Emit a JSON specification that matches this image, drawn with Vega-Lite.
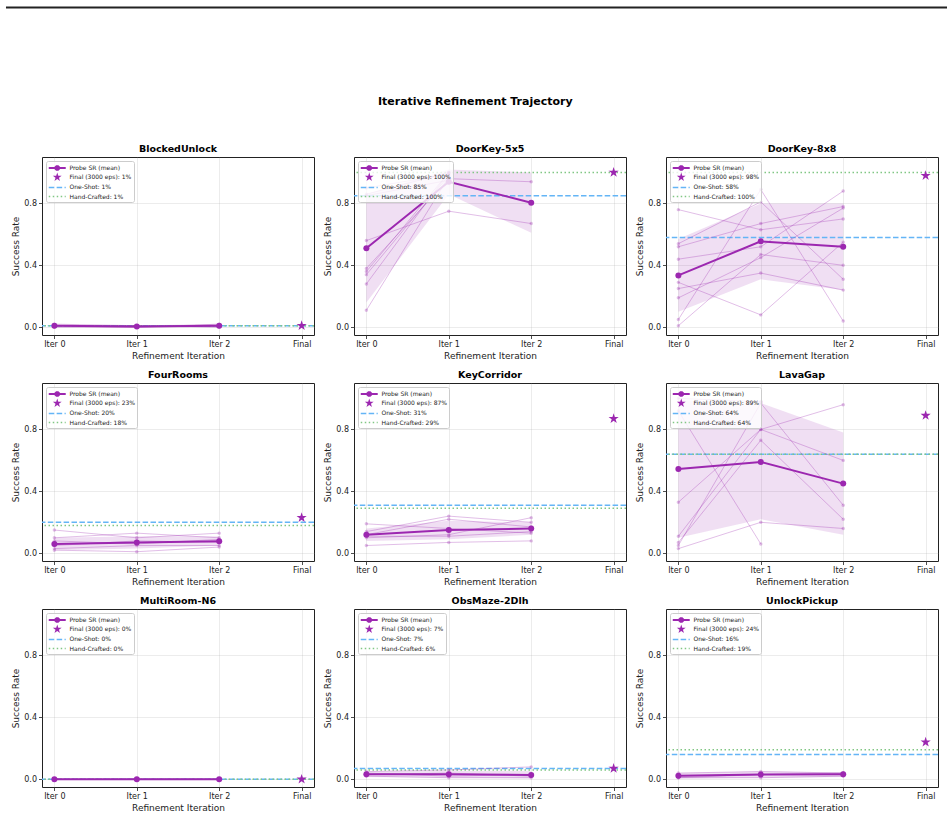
{
  "$schema": "https://vega.github.io/schema/vega-lite/v6.json",
  "padding": {"left": 4, "top": 6, "right": 2, "bottom": 0},
  "datasets": {
    "runs": [
      {"env":"BlockedUnlock","run":1,"iter":0,"sr":0.01},{"env":"BlockedUnlock","run":1,"iter":1,"sr":0.0},{"env":"BlockedUnlock","run":1,"iter":2,"sr":0.02},
      {"env":"BlockedUnlock","run":2,"iter":0,"sr":0.02},{"env":"BlockedUnlock","run":2,"iter":1,"sr":0.01},{"env":"BlockedUnlock","run":2,"iter":2,"sr":0.01},
      {"env":"BlockedUnlock","run":3,"iter":0,"sr":0.0},{"env":"BlockedUnlock","run":3,"iter":1,"sr":0.0},{"env":"BlockedUnlock","run":3,"iter":2,"sr":0.01},
      {"env":"BlockedUnlock","run":4,"iter":0,"sr":0.01},{"env":"BlockedUnlock","run":4,"iter":1,"sr":0.01},{"env":"BlockedUnlock","run":4,"iter":2,"sr":0.0},
      {"env":"DoorKey-5x5","run":1,"iter":0,"sr":0.56},{"env":"DoorKey-5x5","run":1,"iter":1,"sr":0.75},{"env":"DoorKey-5x5","run":1,"iter":2,"sr":0.67},
      {"env":"DoorKey-5x5","run":2,"iter":0,"sr":0.38},{"env":"DoorKey-5x5","run":2,"iter":1,"sr":0.96},{"env":"DoorKey-5x5","run":2,"iter":2,"sr":0.94},
      {"env":"DoorKey-5x5","run":3,"iter":0,"sr":0.36},{"env":"DoorKey-5x5","run":3,"iter":1,"sr":1.0},
      {"env":"DoorKey-5x5","run":4,"iter":0,"sr":0.34},{"env":"DoorKey-5x5","run":4,"iter":1,"sr":0.98},
      {"env":"DoorKey-5x5","run":5,"iter":0,"sr":0.28},{"env":"DoorKey-5x5","run":5,"iter":1,"sr":1.0},
      {"env":"DoorKey-5x5","run":6,"iter":0,"sr":0.11},{"env":"DoorKey-5x5","run":6,"iter":1,"sr":0.97},
      {"env":"DoorKey-5x5","run":7,"iter":0,"sr":0.86},{"env":"DoorKey-5x5","run":7,"iter":1,"sr":1.0},
      {"env":"DoorKey-5x5","run":8,"iter":0,"sr":0.9},{"env":"DoorKey-5x5","run":8,"iter":1,"sr":0.99},
      {"env":"DoorKey-5x5","run":9,"iter":0,"sr":0.85},{"env":"DoorKey-5x5","run":9,"iter":1,"sr":0.95},
      {"env":"DoorKey-8x8","run":1,"iter":0,"sr":0.76},{"env":"DoorKey-8x8","run":1,"iter":1,"sr":0.63},{"env":"DoorKey-8x8","run":1,"iter":2,"sr":0.7},
      {"env":"DoorKey-8x8","run":2,"iter":0,"sr":0.54},{"env":"DoorKey-8x8","run":2,"iter":1,"sr":0.81},{"env":"DoorKey-8x8","run":2,"iter":2,"sr":0.31},
      {"env":"DoorKey-8x8","run":3,"iter":0,"sr":0.52},{"env":"DoorKey-8x8","run":3,"iter":1,"sr":0.67},{"env":"DoorKey-8x8","run":3,"iter":2,"sr":0.78},
      {"env":"DoorKey-8x8","run":4,"iter":0,"sr":0.44},{"env":"DoorKey-8x8","run":4,"iter":1,"sr":0.52},{"env":"DoorKey-8x8","run":4,"iter":2,"sr":0.88},
      {"env":"DoorKey-8x8","run":5,"iter":0,"sr":0.29},{"env":"DoorKey-8x8","run":5,"iter":1,"sr":0.08},{"env":"DoorKey-8x8","run":5,"iter":2,"sr":0.55},
      {"env":"DoorKey-8x8","run":6,"iter":0,"sr":0.25},{"env":"DoorKey-8x8","run":6,"iter":1,"sr":0.35},{"env":"DoorKey-8x8","run":6,"iter":2,"sr":0.24},
      {"env":"DoorKey-8x8","run":7,"iter":0,"sr":0.19},{"env":"DoorKey-8x8","run":7,"iter":1,"sr":0.45},{"env":"DoorKey-8x8","run":7,"iter":2,"sr":0.77},
      {"env":"DoorKey-8x8","run":8,"iter":0,"sr":0.05},{"env":"DoorKey-8x8","run":8,"iter":1,"sr":0.89},{"env":"DoorKey-8x8","run":8,"iter":2,"sr":0.04},
      {"env":"DoorKey-8x8","run":9,"iter":0,"sr":0.01},{"env":"DoorKey-8x8","run":9,"iter":1,"sr":0.47},{"env":"DoorKey-8x8","run":9,"iter":2,"sr":0.4},
      {"env":"FourRooms","run":1,"iter":0,"sr":0.15},{"env":"FourRooms","run":1,"iter":1,"sr":0.1},{"env":"FourRooms","run":1,"iter":2,"sr":0.13},
      {"env":"FourRooms","run":2,"iter":0,"sr":0.1},{"env":"FourRooms","run":2,"iter":1,"sr":0.13},{"env":"FourRooms","run":2,"iter":2,"sr":0.1},
      {"env":"FourRooms","run":3,"iter":0,"sr":0.08},{"env":"FourRooms","run":3,"iter":1,"sr":0.06},{"env":"FourRooms","run":3,"iter":2,"sr":0.09},
      {"env":"FourRooms","run":4,"iter":0,"sr":0.05},{"env":"FourRooms","run":4,"iter":1,"sr":0.08},{"env":"FourRooms","run":4,"iter":2,"sr":0.07},
      {"env":"FourRooms","run":5,"iter":0,"sr":0.03},{"env":"FourRooms","run":5,"iter":1,"sr":0.05},{"env":"FourRooms","run":5,"iter":2,"sr":0.05},
      {"env":"FourRooms","run":6,"iter":0,"sr":0.02},{"env":"FourRooms","run":6,"iter":1,"sr":0.01},{"env":"FourRooms","run":6,"iter":2,"sr":0.04},
      {"env":"KeyCorridor","run":1,"iter":0,"sr":0.19},{"env":"KeyCorridor","run":1,"iter":1,"sr":0.16},{"env":"KeyCorridor","run":1,"iter":2,"sr":0.13},
      {"env":"KeyCorridor","run":2,"iter":0,"sr":0.14},{"env":"KeyCorridor","run":2,"iter":1,"sr":0.24},{"env":"KeyCorridor","run":2,"iter":2,"sr":0.2},
      {"env":"KeyCorridor","run":3,"iter":0,"sr":0.12},{"env":"KeyCorridor","run":3,"iter":1,"sr":0.22},{"env":"KeyCorridor","run":3,"iter":2,"sr":0.17},
      {"env":"KeyCorridor","run":4,"iter":0,"sr":0.1},{"env":"KeyCorridor","run":4,"iter":1,"sr":0.12},{"env":"KeyCorridor","run":4,"iter":2,"sr":0.23},
      {"env":"KeyCorridor","run":5,"iter":0,"sr":0.11},{"env":"KeyCorridor","run":5,"iter":1,"sr":0.11},{"env":"KeyCorridor","run":5,"iter":2,"sr":0.14},
      {"env":"KeyCorridor","run":6,"iter":0,"sr":0.05},{"env":"KeyCorridor","run":6,"iter":1,"sr":0.07},{"env":"KeyCorridor","run":6,"iter":2,"sr":0.08},
      {"env":"LavaGap","run":1,"iter":0,"sr":0.92},{"env":"LavaGap","run":1,"iter":1,"sr":0.06},
      {"env":"LavaGap","run":2,"iter":0,"sr":0.33},{"env":"LavaGap","run":2,"iter":1,"sr":0.8},{"env":"LavaGap","run":2,"iter":2,"sr":0.6},
      {"env":"LavaGap","run":3,"iter":0,"sr":0.11},{"env":"LavaGap","run":3,"iter":1,"sr":0.8},{"env":"LavaGap","run":3,"iter":2,"sr":0.96},
      {"env":"LavaGap","run":4,"iter":0,"sr":0.07},{"env":"LavaGap","run":4,"iter":1,"sr":0.73},{"env":"LavaGap","run":4,"iter":2,"sr":0.22},
      {"env":"LavaGap","run":5,"iter":0,"sr":0.05},{"env":"LavaGap","run":5,"iter":1,"sr":0.97},{"env":"LavaGap","run":5,"iter":2,"sr":0.31},
      {"env":"LavaGap","run":6,"iter":0,"sr":0.03},{"env":"LavaGap","run":6,"iter":1,"sr":0.2},{"env":"LavaGap","run":6,"iter":2,"sr":0.16},
      {"env":"LavaGap","run":7,"iter":0,"sr":1.0},{"env":"LavaGap","run":7,"iter":1,"sr":0.98},
      {"env":"MultiRoom-N6","run":1,"iter":0,"sr":0.0},{"env":"MultiRoom-N6","run":1,"iter":1,"sr":0.0},{"env":"MultiRoom-N6","run":1,"iter":2,"sr":0.0},
      {"env":"MultiRoom-N6","run":2,"iter":0,"sr":0.0},{"env":"MultiRoom-N6","run":2,"iter":1,"sr":0.0},{"env":"MultiRoom-N6","run":2,"iter":2,"sr":0.0},
      {"env":"MultiRoom-N6","run":3,"iter":0,"sr":0.0},{"env":"MultiRoom-N6","run":3,"iter":1,"sr":0.0},{"env":"MultiRoom-N6","run":3,"iter":2,"sr":0.0},
      {"env":"ObsMaze-2Dlh","run":1,"iter":0,"sr":0.05},{"env":"ObsMaze-2Dlh","run":1,"iter":1,"sr":0.06},{"env":"ObsMaze-2Dlh","run":1,"iter":2,"sr":0.08},
      {"env":"ObsMaze-2Dlh","run":2,"iter":0,"sr":0.03},{"env":"ObsMaze-2Dlh","run":2,"iter":1,"sr":0.04},{"env":"ObsMaze-2Dlh","run":2,"iter":2,"sr":0.02},
      {"env":"ObsMaze-2Dlh","run":3,"iter":0,"sr":0.02},{"env":"ObsMaze-2Dlh","run":3,"iter":1,"sr":0.01},{"env":"ObsMaze-2Dlh","run":3,"iter":2,"sr":0.01},
      {"env":"ObsMaze-2Dlh","run":4,"iter":0,"sr":0.04},{"env":"ObsMaze-2Dlh","run":4,"iter":1,"sr":0.02},{"env":"ObsMaze-2Dlh","run":4,"iter":2,"sr":0.03},
      {"env":"UnlockPickup","run":1,"iter":0,"sr":0.04},{"env":"UnlockPickup","run":1,"iter":1,"sr":0.05},{"env":"UnlockPickup","run":1,"iter":2,"sr":0.04},
      {"env":"UnlockPickup","run":2,"iter":0,"sr":0.02},{"env":"UnlockPickup","run":2,"iter":1,"sr":0.03},{"env":"UnlockPickup","run":2,"iter":2,"sr":0.03},
      {"env":"UnlockPickup","run":3,"iter":0,"sr":0.01},{"env":"UnlockPickup","run":3,"iter":1,"sr":0.01},{"env":"UnlockPickup","run":3,"iter":2,"sr":0.02},
      {"env":"UnlockPickup","run":4,"iter":0,"sr":0.01},{"env":"UnlockPickup","run":4,"iter":1,"sr":0.03},{"env":"UnlockPickup","run":4,"iter":2,"sr":0.04}
    ],
    "stats": [
      {"env":"BlockedUnlock","iter":0,"mean":0.01,"lo":0.004,"hi":0.016},{"env":"BlockedUnlock","iter":1,"mean":0.005,"lo":0.0,"hi":0.011},{"env":"BlockedUnlock","iter":2,"mean":0.01,"lo":0.0,"hi":0.022},
      {"env":"DoorKey-5x5","iter":0,"mean":0.51,"lo":0.16,"hi":0.86},{"env":"DoorKey-5x5","iter":1,"mean":0.94,"lo":0.86,"hi":1.02},{"env":"DoorKey-5x5","iter":2,"mean":0.805,"lo":0.61,"hi":1.0},
      {"env":"DoorKey-8x8","iter":0,"mean":0.335,"lo":0.1,"hi":0.57},{"env":"DoorKey-8x8","iter":1,"mean":0.555,"lo":0.31,"hi":0.8},{"env":"DoorKey-8x8","iter":2,"mean":0.52,"lo":0.24,"hi":0.8},
      {"env":"FourRooms","iter":0,"mean":0.06,"lo":0.02,"hi":0.1},{"env":"FourRooms","iter":1,"mean":0.07,"lo":0.03,"hi":0.11},{"env":"FourRooms","iter":2,"mean":0.078,"lo":0.05,"hi":0.11},
      {"env":"KeyCorridor","iter":0,"mean":0.12,"lo":0.08,"hi":0.16},{"env":"KeyCorridor","iter":1,"mean":0.15,"lo":0.09,"hi":0.21},{"env":"KeyCorridor","iter":2,"mean":0.16,"lo":0.12,"hi":0.2},
      {"env":"LavaGap","iter":0,"mean":0.545,"lo":0.1,"hi":0.99},{"env":"LavaGap","iter":1,"mean":0.59,"lo":0.22,"hi":0.97},{"env":"LavaGap","iter":2,"mean":0.45,"lo":0.12,"hi":0.78},
      {"env":"MultiRoom-N6","iter":0,"mean":0.0,"lo":0.0,"hi":0.0},{"env":"MultiRoom-N6","iter":1,"mean":0.0,"lo":0.0,"hi":0.0},{"env":"MultiRoom-N6","iter":2,"mean":0.0,"lo":0.0,"hi":0.0},
      {"env":"ObsMaze-2Dlh","iter":0,"mean":0.032,"lo":0.015,"hi":0.05},{"env":"ObsMaze-2Dlh","iter":1,"mean":0.032,"lo":0.01,"hi":0.055},{"env":"ObsMaze-2Dlh","iter":2,"mean":0.028,"lo":0.005,"hi":0.055},
      {"env":"UnlockPickup","iter":0,"mean":0.022,"lo":0.005,"hi":0.04},{"env":"UnlockPickup","iter":1,"mean":0.03,"lo":0.01,"hi":0.05},{"env":"UnlockPickup","iter":2,"mean":0.032,"lo":0.015,"hi":0.045}
    ],
    "refs": [
      {"env":"BlockedUnlock","iter":3,"final":0.01,"oneshot":0.01,"hand":0.01},
      {"env":"DoorKey-5x5","iter":3,"final":1.0,"oneshot":0.85,"hand":1.0},
      {"env":"DoorKey-8x8","iter":3,"final":0.98,"oneshot":0.58,"hand":1.0},
      {"env":"FourRooms","iter":3,"final":0.23,"oneshot":0.2,"hand":0.18},
      {"env":"KeyCorridor","iter":3,"final":0.87,"oneshot":0.31,"hand":0.29},
      {"env":"LavaGap","iter":3,"final":0.89,"oneshot":0.64,"hand":0.64},
      {"env":"MultiRoom-N6","iter":3,"final":0.0,"oneshot":0.0,"hand":0.0},
      {"env":"ObsMaze-2Dlh","iter":3,"final":0.07,"oneshot":0.07,"hand":0.06},
      {"env":"UnlockPickup","iter":3,"final":0.24,"oneshot":0.16,"hand":0.19}
    ]
  },
  "spacing": 87,
  "vconcat": [
    {
      "width": 905, "height": 1,
      "data": {"values": [{}]},
      "mark": {"type": "rule", "color": "#222222", "strokeWidth": 2},
      "encoding": {
        "x": {"datum": -0.0398, "type": "quantitative", "scale": {"domain": [0, 1], "nice": false, "zero": false}, "axis": null},
        "x2": {"datum": 1},
        "y": {"datum": 0.5, "type": "quantitative", "scale": {"domain": [0, 1]}, "axis": null}
      },
      "view": {"stroke": null}
    },
    {
      "title": {"text": "Iterative Refinement Trajectory", "fontSize": 11, "anchor": "middle", "offset": 36},
      "columns": 3,
      "spacing": {"row": 8, "column": 7},
      "resolve": {"scale": {"color": "independent", "shape": "independent"}, "legend": {"color": "independent", "shape": "independent"}},
      "concat": [
        {"title": "BlockedUnlock", "width": 272, "height": 178, "layer": [
          {"data": {"name": "stats"}, "transform": [{"filter": "datum.env === 'BlockedUnlock'"}], "mark": {"type": "area", "color": "#9c27b0", "opacity": 0.15}, "encoding": {"x": {"field": "iter", "type": "quantitative", "scale": {"domain": [-0.15, 3.15], "nice": false, "zero": false}, "axis": {"values": [0, 1, 2, 3], "labelExpr": "datum.value === 3 ? 'Final' : 'Iter ' + datum.value", "title": "Refinement Iteration", "labelFlush": false}}, "y": {"field": "lo", "type": "quantitative", "scale": {"domain": [-0.05, 1.1], "nice": false, "zero": false}, "axis": {"values": [0, 0.2, 0.4, 0.6, 0.8, 1], "format": ".1f", "title": "Success Rate", "labelOverlap": false, "labelBound": false, "labelSeparation": 0}}, "y2": {"field": "hi"}}},
          {"data": {"name": "refs"}, "transform": [{"filter": "datum.env === 'BlockedUnlock'"}], "mark": {"type": "rule", "color": "#64b5f6", "strokeWidth": 1.5, "strokeDash": [5.5, 2.4]}, "encoding": {"y": {"field": "oneshot", "type": "quantitative"}}},
          {"data": {"name": "refs"}, "transform": [{"filter": "datum.env === 'BlockedUnlock'"}], "mark": {"type": "rule", "color": "#81c784", "strokeWidth": 1.5, "strokeDash": [1.5, 2.5]}, "encoding": {"y": {"field": "hand", "type": "quantitative"}}},
          {"data": {"name": "runs"}, "transform": [{"filter": "datum.env === 'BlockedUnlock'"}], "mark": {"type": "line", "color": "#9c27b0", "strokeWidth": 1, "opacity": 0.3, "point": {"filled": true, "size": 12, "color": "#9c27b0", "opacity": 0.3}}, "encoding": {"x": {"field": "iter", "type": "quantitative"}, "y": {"field": "sr", "type": "quantitative"}, "detail": {"field": "run", "type": "nominal"}}},
          {"data": {"name": "stats"}, "transform": [{"filter": "datum.env === 'BlockedUnlock'"}], "mark": {"type": "line", "color": "#9c27b0", "strokeWidth": 2, "point": {"filled": true, "size": 36, "color": "#9c27b0", "opacity": 1}}, "encoding": {"x": {"field": "iter", "type": "quantitative"}, "y": {"field": "mean", "type": "quantitative"}}},
          {"data": {"name": "refs"}, "transform": [{"filter": "datum.env === 'BlockedUnlock'"}], "mark": {"type": "point", "shape": "M0,-1L0.225,-0.309L0.951,-0.309L0.363,0.118L0.588,0.809L0,0.382L-0.588,0.809L-0.363,0.118L-0.951,-0.309L-0.225,-0.309Z", "filled": true, "size": 115, "color": "#9c27b0", "opacity": 1}, "encoding": {"x": {"field": "iter", "type": "quantitative"}, "y": {"field": "final", "type": "quantitative"}}},
          {"data": {"name": "refs"}, "transform": [{"filter": "false"}], "mark": {"type": "point", "filled": true, "opacity": 1}, "encoding": {
            "color": {"datum": "Probe SR (mean)", "scale": {"domain": ["Probe SR (mean)", "Final (3000 eps): 1%", "One-Shot: 1%", "Hand-Crafted: 1%"], "range": ["#9c27b0", "#9c27b0", "#64b5f6", "#81c784"]}, "legend": {"title": null}},
            "shape": {"datum": "Probe SR (mean)", "scale": {"domain": ["Probe SR (mean)", "Final (3000 eps): 1%", "One-Shot: 1%", "Hand-Crafted: 1%"], "range": ["M-1,-0.23H3V0.23H-1Z M0.353,-0.268L0.732,-0.647L1.268,-0.647L1.647,-0.268L1.647,0.268L1.268,0.647L0.732,0.647L0.353,0.268Z", "M1,-1.1L1.248,-0.341L2.046,-0.34L1.402,0.13L1.646,0.89L1,0.422L0.354,0.89L0.598,0.13L-0.046,-0.34L0.752,-0.341Z", "M-1,-0.18H0.3V0.18H-1Z M0.86,-0.18H2.16V0.18H0.86Z M2.72,-0.18H3V0.18H2.72Z", "M-1,-0.18H-0.65V0.18H-1Z M-0.06,-0.18H0.29V0.18H-0.06Z M0.88,-0.18H1.23V0.18H0.88Z M1.82,-0.18H2.17V0.18H1.82Z M2.76,-0.18H3V0.18H2.76Z"]}, "legend": {"title": null}}}}
        ]},
        {"title": "DoorKey-5x5", "width": 272, "height": 178, "layer": [
          {"data": {"name": "stats"}, "transform": [{"filter": "datum.env === 'DoorKey-5x5'"}], "mark": {"type": "area", "color": "#9c27b0", "opacity": 0.15}, "encoding": {"x": {"field": "iter", "type": "quantitative", "scale": {"domain": [-0.15, 3.15], "nice": false, "zero": false}, "axis": {"values": [0, 1, 2, 3], "labelExpr": "datum.value === 3 ? 'Final' : 'Iter ' + datum.value", "title": "Refinement Iteration", "labelFlush": false}}, "y": {"field": "lo", "type": "quantitative", "scale": {"domain": [-0.05, 1.1], "nice": false, "zero": false}, "axis": {"values": [0, 0.2, 0.4, 0.6, 0.8, 1], "format": ".1f", "title": "Success Rate", "labelOverlap": false, "labelBound": false, "labelSeparation": 0}}, "y2": {"field": "hi"}}},
          {"data": {"name": "refs"}, "transform": [{"filter": "datum.env === 'DoorKey-5x5'"}], "mark": {"type": "rule", "color": "#64b5f6", "strokeWidth": 1.5, "strokeDash": [5.5, 2.4]}, "encoding": {"y": {"field": "oneshot", "type": "quantitative"}}},
          {"data": {"name": "refs"}, "transform": [{"filter": "datum.env === 'DoorKey-5x5'"}], "mark": {"type": "rule", "color": "#81c784", "strokeWidth": 1.5, "strokeDash": [1.5, 2.5]}, "encoding": {"y": {"field": "hand", "type": "quantitative"}}},
          {"data": {"name": "runs"}, "transform": [{"filter": "datum.env === 'DoorKey-5x5'"}], "mark": {"type": "line", "color": "#9c27b0", "strokeWidth": 1, "opacity": 0.3, "point": {"filled": true, "size": 12, "color": "#9c27b0", "opacity": 0.3}}, "encoding": {"x": {"field": "iter", "type": "quantitative"}, "y": {"field": "sr", "type": "quantitative"}, "detail": {"field": "run", "type": "nominal"}}},
          {"data": {"name": "stats"}, "transform": [{"filter": "datum.env === 'DoorKey-5x5'"}], "mark": {"type": "line", "color": "#9c27b0", "strokeWidth": 2, "point": {"filled": true, "size": 36, "color": "#9c27b0", "opacity": 1}}, "encoding": {"x": {"field": "iter", "type": "quantitative"}, "y": {"field": "mean", "type": "quantitative"}}},
          {"data": {"name": "refs"}, "transform": [{"filter": "datum.env === 'DoorKey-5x5'"}], "mark": {"type": "point", "shape": "M0,-1L0.225,-0.309L0.951,-0.309L0.363,0.118L0.588,0.809L0,0.382L-0.588,0.809L-0.363,0.118L-0.951,-0.309L-0.225,-0.309Z", "filled": true, "size": 115, "color": "#9c27b0", "opacity": 1}, "encoding": {"x": {"field": "iter", "type": "quantitative"}, "y": {"field": "final", "type": "quantitative"}}},
          {"data": {"name": "refs"}, "transform": [{"filter": "false"}], "mark": {"type": "point", "filled": true, "opacity": 1}, "encoding": {
            "color": {"datum": "Probe SR (mean)", "scale": {"domain": ["Probe SR (mean)", "Final (3000 eps): 100%", "One-Shot: 85%", "Hand-Crafted: 100%"], "range": ["#9c27b0", "#9c27b0", "#64b5f6", "#81c784"]}, "legend": {"title": null}},
            "shape": {"datum": "Probe SR (mean)", "scale": {"domain": ["Probe SR (mean)", "Final (3000 eps): 100%", "One-Shot: 85%", "Hand-Crafted: 100%"], "range": ["M-1,-0.23H3V0.23H-1Z M0.353,-0.268L0.732,-0.647L1.268,-0.647L1.647,-0.268L1.647,0.268L1.268,0.647L0.732,0.647L0.353,0.268Z", "M1,-1.1L1.248,-0.341L2.046,-0.34L1.402,0.13L1.646,0.89L1,0.422L0.354,0.89L0.598,0.13L-0.046,-0.34L0.752,-0.341Z", "M-1,-0.18H0.3V0.18H-1Z M0.86,-0.18H2.16V0.18H0.86Z M2.72,-0.18H3V0.18H2.72Z", "M-1,-0.18H-0.65V0.18H-1Z M-0.06,-0.18H0.29V0.18H-0.06Z M0.88,-0.18H1.23V0.18H0.88Z M1.82,-0.18H2.17V0.18H1.82Z M2.76,-0.18H3V0.18H2.76Z"]}, "legend": {"title": null}}}}
        ]},
        {"title": "DoorKey-8x8", "width": 272, "height": 178, "layer": [
          {"data": {"name": "stats"}, "transform": [{"filter": "datum.env === 'DoorKey-8x8'"}], "mark": {"type": "area", "color": "#9c27b0", "opacity": 0.15}, "encoding": {"x": {"field": "iter", "type": "quantitative", "scale": {"domain": [-0.15, 3.15], "nice": false, "zero": false}, "axis": {"values": [0, 1, 2, 3], "labelExpr": "datum.value === 3 ? 'Final' : 'Iter ' + datum.value", "title": "Refinement Iteration", "labelFlush": false}}, "y": {"field": "lo", "type": "quantitative", "scale": {"domain": [-0.05, 1.1], "nice": false, "zero": false}, "axis": {"values": [0, 0.2, 0.4, 0.6, 0.8, 1], "format": ".1f", "title": "Success Rate", "labelOverlap": false, "labelBound": false, "labelSeparation": 0}}, "y2": {"field": "hi"}}},
          {"data": {"name": "refs"}, "transform": [{"filter": "datum.env === 'DoorKey-8x8'"}], "mark": {"type": "rule", "color": "#64b5f6", "strokeWidth": 1.5, "strokeDash": [5.5, 2.4]}, "encoding": {"y": {"field": "oneshot", "type": "quantitative"}}},
          {"data": {"name": "refs"}, "transform": [{"filter": "datum.env === 'DoorKey-8x8'"}], "mark": {"type": "rule", "color": "#81c784", "strokeWidth": 1.5, "strokeDash": [1.5, 2.5]}, "encoding": {"y": {"field": "hand", "type": "quantitative"}}},
          {"data": {"name": "runs"}, "transform": [{"filter": "datum.env === 'DoorKey-8x8'"}], "mark": {"type": "line", "color": "#9c27b0", "strokeWidth": 1, "opacity": 0.3, "point": {"filled": true, "size": 12, "color": "#9c27b0", "opacity": 0.3}}, "encoding": {"x": {"field": "iter", "type": "quantitative"}, "y": {"field": "sr", "type": "quantitative"}, "detail": {"field": "run", "type": "nominal"}}},
          {"data": {"name": "stats"}, "transform": [{"filter": "datum.env === 'DoorKey-8x8'"}], "mark": {"type": "line", "color": "#9c27b0", "strokeWidth": 2, "point": {"filled": true, "size": 36, "color": "#9c27b0", "opacity": 1}}, "encoding": {"x": {"field": "iter", "type": "quantitative"}, "y": {"field": "mean", "type": "quantitative"}}},
          {"data": {"name": "refs"}, "transform": [{"filter": "datum.env === 'DoorKey-8x8'"}], "mark": {"type": "point", "shape": "M0,-1L0.225,-0.309L0.951,-0.309L0.363,0.118L0.588,0.809L0,0.382L-0.588,0.809L-0.363,0.118L-0.951,-0.309L-0.225,-0.309Z", "filled": true, "size": 115, "color": "#9c27b0", "opacity": 1}, "encoding": {"x": {"field": "iter", "type": "quantitative"}, "y": {"field": "final", "type": "quantitative"}}},
          {"data": {"name": "refs"}, "transform": [{"filter": "false"}], "mark": {"type": "point", "filled": true, "opacity": 1}, "encoding": {
            "color": {"datum": "Probe SR (mean)", "scale": {"domain": ["Probe SR (mean)", "Final (3000 eps): 98%", "One-Shot: 58%", "Hand-Crafted: 100%"], "range": ["#9c27b0", "#9c27b0", "#64b5f6", "#81c784"]}, "legend": {"title": null}},
            "shape": {"datum": "Probe SR (mean)", "scale": {"domain": ["Probe SR (mean)", "Final (3000 eps): 98%", "One-Shot: 58%", "Hand-Crafted: 100%"], "range": ["M-1,-0.23H3V0.23H-1Z M0.353,-0.268L0.732,-0.647L1.268,-0.647L1.647,-0.268L1.647,0.268L1.268,0.647L0.732,0.647L0.353,0.268Z", "M1,-1.1L1.248,-0.341L2.046,-0.34L1.402,0.13L1.646,0.89L1,0.422L0.354,0.89L0.598,0.13L-0.046,-0.34L0.752,-0.341Z", "M-1,-0.18H0.3V0.18H-1Z M0.86,-0.18H2.16V0.18H0.86Z M2.72,-0.18H3V0.18H2.72Z", "M-1,-0.18H-0.65V0.18H-1Z M-0.06,-0.18H0.29V0.18H-0.06Z M0.88,-0.18H1.23V0.18H0.88Z M1.82,-0.18H2.17V0.18H1.82Z M2.76,-0.18H3V0.18H2.76Z"]}, "legend": {"title": null}}}}
        ]},
        {"title": "FourRooms", "width": 272, "height": 178, "layer": [
          {"data": {"name": "stats"}, "transform": [{"filter": "datum.env === 'FourRooms'"}], "mark": {"type": "area", "color": "#9c27b0", "opacity": 0.15}, "encoding": {"x": {"field": "iter", "type": "quantitative", "scale": {"domain": [-0.15, 3.15], "nice": false, "zero": false}, "axis": {"values": [0, 1, 2, 3], "labelExpr": "datum.value === 3 ? 'Final' : 'Iter ' + datum.value", "title": "Refinement Iteration", "labelFlush": false}}, "y": {"field": "lo", "type": "quantitative", "scale": {"domain": [-0.05, 1.1], "nice": false, "zero": false}, "axis": {"values": [0, 0.2, 0.4, 0.6, 0.8, 1], "format": ".1f", "title": "Success Rate", "labelOverlap": false, "labelBound": false, "labelSeparation": 0}}, "y2": {"field": "hi"}}},
          {"data": {"name": "refs"}, "transform": [{"filter": "datum.env === 'FourRooms'"}], "mark": {"type": "rule", "color": "#64b5f6", "strokeWidth": 1.5, "strokeDash": [5.5, 2.4]}, "encoding": {"y": {"field": "oneshot", "type": "quantitative"}}},
          {"data": {"name": "refs"}, "transform": [{"filter": "datum.env === 'FourRooms'"}], "mark": {"type": "rule", "color": "#81c784", "strokeWidth": 1.5, "strokeDash": [1.5, 2.5]}, "encoding": {"y": {"field": "hand", "type": "quantitative"}}},
          {"data": {"name": "runs"}, "transform": [{"filter": "datum.env === 'FourRooms'"}], "mark": {"type": "line", "color": "#9c27b0", "strokeWidth": 1, "opacity": 0.3, "point": {"filled": true, "size": 12, "color": "#9c27b0", "opacity": 0.3}}, "encoding": {"x": {"field": "iter", "type": "quantitative"}, "y": {"field": "sr", "type": "quantitative"}, "detail": {"field": "run", "type": "nominal"}}},
          {"data": {"name": "stats"}, "transform": [{"filter": "datum.env === 'FourRooms'"}], "mark": {"type": "line", "color": "#9c27b0", "strokeWidth": 2, "point": {"filled": true, "size": 36, "color": "#9c27b0", "opacity": 1}}, "encoding": {"x": {"field": "iter", "type": "quantitative"}, "y": {"field": "mean", "type": "quantitative"}}},
          {"data": {"name": "refs"}, "transform": [{"filter": "datum.env === 'FourRooms'"}], "mark": {"type": "point", "shape": "M0,-1L0.225,-0.309L0.951,-0.309L0.363,0.118L0.588,0.809L0,0.382L-0.588,0.809L-0.363,0.118L-0.951,-0.309L-0.225,-0.309Z", "filled": true, "size": 115, "color": "#9c27b0", "opacity": 1}, "encoding": {"x": {"field": "iter", "type": "quantitative"}, "y": {"field": "final", "type": "quantitative"}}},
          {"data": {"name": "refs"}, "transform": [{"filter": "false"}], "mark": {"type": "point", "filled": true, "opacity": 1}, "encoding": {
            "color": {"datum": "Probe SR (mean)", "scale": {"domain": ["Probe SR (mean)", "Final (3000 eps): 23%", "One-Shot: 20%", "Hand-Crafted: 18%"], "range": ["#9c27b0", "#9c27b0", "#64b5f6", "#81c784"]}, "legend": {"title": null}},
            "shape": {"datum": "Probe SR (mean)", "scale": {"domain": ["Probe SR (mean)", "Final (3000 eps): 23%", "One-Shot: 20%", "Hand-Crafted: 18%"], "range": ["M-1,-0.23H3V0.23H-1Z M0.353,-0.268L0.732,-0.647L1.268,-0.647L1.647,-0.268L1.647,0.268L1.268,0.647L0.732,0.647L0.353,0.268Z", "M1,-1.1L1.248,-0.341L2.046,-0.34L1.402,0.13L1.646,0.89L1,0.422L0.354,0.89L0.598,0.13L-0.046,-0.34L0.752,-0.341Z", "M-1,-0.18H0.3V0.18H-1Z M0.86,-0.18H2.16V0.18H0.86Z M2.72,-0.18H3V0.18H2.72Z", "M-1,-0.18H-0.65V0.18H-1Z M-0.06,-0.18H0.29V0.18H-0.06Z M0.88,-0.18H1.23V0.18H0.88Z M1.82,-0.18H2.17V0.18H1.82Z M2.76,-0.18H3V0.18H2.76Z"]}, "legend": {"title": null}}}}
        ]},
        {"title": "KeyCorridor", "width": 272, "height": 178, "layer": [
          {"data": {"name": "stats"}, "transform": [{"filter": "datum.env === 'KeyCorridor'"}], "mark": {"type": "area", "color": "#9c27b0", "opacity": 0.15}, "encoding": {"x": {"field": "iter", "type": "quantitative", "scale": {"domain": [-0.15, 3.15], "nice": false, "zero": false}, "axis": {"values": [0, 1, 2, 3], "labelExpr": "datum.value === 3 ? 'Final' : 'Iter ' + datum.value", "title": "Refinement Iteration", "labelFlush": false}}, "y": {"field": "lo", "type": "quantitative", "scale": {"domain": [-0.05, 1.1], "nice": false, "zero": false}, "axis": {"values": [0, 0.2, 0.4, 0.6, 0.8, 1], "format": ".1f", "title": "Success Rate", "labelOverlap": false, "labelBound": false, "labelSeparation": 0}}, "y2": {"field": "hi"}}},
          {"data": {"name": "refs"}, "transform": [{"filter": "datum.env === 'KeyCorridor'"}], "mark": {"type": "rule", "color": "#64b5f6", "strokeWidth": 1.5, "strokeDash": [5.5, 2.4]}, "encoding": {"y": {"field": "oneshot", "type": "quantitative"}}},
          {"data": {"name": "refs"}, "transform": [{"filter": "datum.env === 'KeyCorridor'"}], "mark": {"type": "rule", "color": "#81c784", "strokeWidth": 1.5, "strokeDash": [1.5, 2.5]}, "encoding": {"y": {"field": "hand", "type": "quantitative"}}},
          {"data": {"name": "runs"}, "transform": [{"filter": "datum.env === 'KeyCorridor'"}], "mark": {"type": "line", "color": "#9c27b0", "strokeWidth": 1, "opacity": 0.3, "point": {"filled": true, "size": 12, "color": "#9c27b0", "opacity": 0.3}}, "encoding": {"x": {"field": "iter", "type": "quantitative"}, "y": {"field": "sr", "type": "quantitative"}, "detail": {"field": "run", "type": "nominal"}}},
          {"data": {"name": "stats"}, "transform": [{"filter": "datum.env === 'KeyCorridor'"}], "mark": {"type": "line", "color": "#9c27b0", "strokeWidth": 2, "point": {"filled": true, "size": 36, "color": "#9c27b0", "opacity": 1}}, "encoding": {"x": {"field": "iter", "type": "quantitative"}, "y": {"field": "mean", "type": "quantitative"}}},
          {"data": {"name": "refs"}, "transform": [{"filter": "datum.env === 'KeyCorridor'"}], "mark": {"type": "point", "shape": "M0,-1L0.225,-0.309L0.951,-0.309L0.363,0.118L0.588,0.809L0,0.382L-0.588,0.809L-0.363,0.118L-0.951,-0.309L-0.225,-0.309Z", "filled": true, "size": 115, "color": "#9c27b0", "opacity": 1}, "encoding": {"x": {"field": "iter", "type": "quantitative"}, "y": {"field": "final", "type": "quantitative"}}},
          {"data": {"name": "refs"}, "transform": [{"filter": "false"}], "mark": {"type": "point", "filled": true, "opacity": 1}, "encoding": {
            "color": {"datum": "Probe SR (mean)", "scale": {"domain": ["Probe SR (mean)", "Final (3000 eps): 87%", "One-Shot: 31%", "Hand-Crafted: 29%"], "range": ["#9c27b0", "#9c27b0", "#64b5f6", "#81c784"]}, "legend": {"title": null}},
            "shape": {"datum": "Probe SR (mean)", "scale": {"domain": ["Probe SR (mean)", "Final (3000 eps): 87%", "One-Shot: 31%", "Hand-Crafted: 29%"], "range": ["M-1,-0.23H3V0.23H-1Z M0.353,-0.268L0.732,-0.647L1.268,-0.647L1.647,-0.268L1.647,0.268L1.268,0.647L0.732,0.647L0.353,0.268Z", "M1,-1.1L1.248,-0.341L2.046,-0.34L1.402,0.13L1.646,0.89L1,0.422L0.354,0.89L0.598,0.13L-0.046,-0.34L0.752,-0.341Z", "M-1,-0.18H0.3V0.18H-1Z M0.86,-0.18H2.16V0.18H0.86Z M2.72,-0.18H3V0.18H2.72Z", "M-1,-0.18H-0.65V0.18H-1Z M-0.06,-0.18H0.29V0.18H-0.06Z M0.88,-0.18H1.23V0.18H0.88Z M1.82,-0.18H2.17V0.18H1.82Z M2.76,-0.18H3V0.18H2.76Z"]}, "legend": {"title": null}}}}
        ]},
        {"title": "LavaGap", "width": 272, "height": 178, "layer": [
          {"data": {"name": "stats"}, "transform": [{"filter": "datum.env === 'LavaGap'"}], "mark": {"type": "area", "color": "#9c27b0", "opacity": 0.15}, "encoding": {"x": {"field": "iter", "type": "quantitative", "scale": {"domain": [-0.15, 3.15], "nice": false, "zero": false}, "axis": {"values": [0, 1, 2, 3], "labelExpr": "datum.value === 3 ? 'Final' : 'Iter ' + datum.value", "title": "Refinement Iteration", "labelFlush": false}}, "y": {"field": "lo", "type": "quantitative", "scale": {"domain": [-0.05, 1.1], "nice": false, "zero": false}, "axis": {"values": [0, 0.2, 0.4, 0.6, 0.8, 1], "format": ".1f", "title": "Success Rate", "labelOverlap": false, "labelBound": false, "labelSeparation": 0}}, "y2": {"field": "hi"}}},
          {"data": {"name": "refs"}, "transform": [{"filter": "datum.env === 'LavaGap'"}], "mark": {"type": "rule", "color": "#64b5f6", "strokeWidth": 1.5, "strokeDash": [5.5, 2.4]}, "encoding": {"y": {"field": "oneshot", "type": "quantitative"}}},
          {"data": {"name": "refs"}, "transform": [{"filter": "datum.env === 'LavaGap'"}], "mark": {"type": "rule", "color": "#81c784", "strokeWidth": 1.5, "strokeDash": [1.5, 2.5]}, "encoding": {"y": {"field": "hand", "type": "quantitative"}}},
          {"data": {"name": "runs"}, "transform": [{"filter": "datum.env === 'LavaGap'"}], "mark": {"type": "line", "color": "#9c27b0", "strokeWidth": 1, "opacity": 0.3, "point": {"filled": true, "size": 12, "color": "#9c27b0", "opacity": 0.3}}, "encoding": {"x": {"field": "iter", "type": "quantitative"}, "y": {"field": "sr", "type": "quantitative"}, "detail": {"field": "run", "type": "nominal"}}},
          {"data": {"name": "stats"}, "transform": [{"filter": "datum.env === 'LavaGap'"}], "mark": {"type": "line", "color": "#9c27b0", "strokeWidth": 2, "point": {"filled": true, "size": 36, "color": "#9c27b0", "opacity": 1}}, "encoding": {"x": {"field": "iter", "type": "quantitative"}, "y": {"field": "mean", "type": "quantitative"}}},
          {"data": {"name": "refs"}, "transform": [{"filter": "datum.env === 'LavaGap'"}], "mark": {"type": "point", "shape": "M0,-1L0.225,-0.309L0.951,-0.309L0.363,0.118L0.588,0.809L0,0.382L-0.588,0.809L-0.363,0.118L-0.951,-0.309L-0.225,-0.309Z", "filled": true, "size": 115, "color": "#9c27b0", "opacity": 1}, "encoding": {"x": {"field": "iter", "type": "quantitative"}, "y": {"field": "final", "type": "quantitative"}}},
          {"data": {"name": "refs"}, "transform": [{"filter": "false"}], "mark": {"type": "point", "filled": true, "opacity": 1}, "encoding": {
            "color": {"datum": "Probe SR (mean)", "scale": {"domain": ["Probe SR (mean)", "Final (3000 eps): 89%", "One-Shot: 64%", "Hand-Crafted: 64%"], "range": ["#9c27b0", "#9c27b0", "#64b5f6", "#81c784"]}, "legend": {"title": null}},
            "shape": {"datum": "Probe SR (mean)", "scale": {"domain": ["Probe SR (mean)", "Final (3000 eps): 89%", "One-Shot: 64%", "Hand-Crafted: 64%"], "range": ["M-1,-0.23H3V0.23H-1Z M0.353,-0.268L0.732,-0.647L1.268,-0.647L1.647,-0.268L1.647,0.268L1.268,0.647L0.732,0.647L0.353,0.268Z", "M1,-1.1L1.248,-0.341L2.046,-0.34L1.402,0.13L1.646,0.89L1,0.422L0.354,0.89L0.598,0.13L-0.046,-0.34L0.752,-0.341Z", "M-1,-0.18H0.3V0.18H-1Z M0.86,-0.18H2.16V0.18H0.86Z M2.72,-0.18H3V0.18H2.72Z", "M-1,-0.18H-0.65V0.18H-1Z M-0.06,-0.18H0.29V0.18H-0.06Z M0.88,-0.18H1.23V0.18H0.88Z M1.82,-0.18H2.17V0.18H1.82Z M2.76,-0.18H3V0.18H2.76Z"]}, "legend": {"title": null}}}}
        ]},
        {"title": "MultiRoom-N6", "width": 272, "height": 178, "layer": [
          {"data": {"name": "stats"}, "transform": [{"filter": "datum.env === 'MultiRoom-N6'"}], "mark": {"type": "area", "color": "#9c27b0", "opacity": 0.15}, "encoding": {"x": {"field": "iter", "type": "quantitative", "scale": {"domain": [-0.15, 3.15], "nice": false, "zero": false}, "axis": {"values": [0, 1, 2, 3], "labelExpr": "datum.value === 3 ? 'Final' : 'Iter ' + datum.value", "title": "Refinement Iteration", "labelFlush": false}}, "y": {"field": "lo", "type": "quantitative", "scale": {"domain": [-0.05, 1.1], "nice": false, "zero": false}, "axis": {"values": [0, 0.2, 0.4, 0.6, 0.8, 1], "format": ".1f", "title": "Success Rate", "labelOverlap": false, "labelBound": false, "labelSeparation": 0}}, "y2": {"field": "hi"}}},
          {"data": {"name": "refs"}, "transform": [{"filter": "datum.env === 'MultiRoom-N6'"}], "mark": {"type": "rule", "color": "#64b5f6", "strokeWidth": 1.5, "strokeDash": [5.5, 2.4]}, "encoding": {"y": {"field": "oneshot", "type": "quantitative"}}},
          {"data": {"name": "refs"}, "transform": [{"filter": "datum.env === 'MultiRoom-N6'"}], "mark": {"type": "rule", "color": "#81c784", "strokeWidth": 1.5, "strokeDash": [1.5, 2.5]}, "encoding": {"y": {"field": "hand", "type": "quantitative"}}},
          {"data": {"name": "runs"}, "transform": [{"filter": "datum.env === 'MultiRoom-N6'"}], "mark": {"type": "line", "color": "#9c27b0", "strokeWidth": 1, "opacity": 0.3, "point": {"filled": true, "size": 12, "color": "#9c27b0", "opacity": 0.3}}, "encoding": {"x": {"field": "iter", "type": "quantitative"}, "y": {"field": "sr", "type": "quantitative"}, "detail": {"field": "run", "type": "nominal"}}},
          {"data": {"name": "stats"}, "transform": [{"filter": "datum.env === 'MultiRoom-N6'"}], "mark": {"type": "line", "color": "#9c27b0", "strokeWidth": 2, "point": {"filled": true, "size": 36, "color": "#9c27b0", "opacity": 1}}, "encoding": {"x": {"field": "iter", "type": "quantitative"}, "y": {"field": "mean", "type": "quantitative"}}},
          {"data": {"name": "refs"}, "transform": [{"filter": "datum.env === 'MultiRoom-N6'"}], "mark": {"type": "point", "shape": "M0,-1L0.225,-0.309L0.951,-0.309L0.363,0.118L0.588,0.809L0,0.382L-0.588,0.809L-0.363,0.118L-0.951,-0.309L-0.225,-0.309Z", "filled": true, "size": 115, "color": "#9c27b0", "opacity": 1}, "encoding": {"x": {"field": "iter", "type": "quantitative"}, "y": {"field": "final", "type": "quantitative"}}},
          {"data": {"name": "refs"}, "transform": [{"filter": "false"}], "mark": {"type": "point", "filled": true, "opacity": 1}, "encoding": {
            "color": {"datum": "Probe SR (mean)", "scale": {"domain": ["Probe SR (mean)", "Final (3000 eps): 0%", "One-Shot: 0%", "Hand-Crafted: 0%"], "range": ["#9c27b0", "#9c27b0", "#64b5f6", "#81c784"]}, "legend": {"title": null}},
            "shape": {"datum": "Probe SR (mean)", "scale": {"domain": ["Probe SR (mean)", "Final (3000 eps): 0%", "One-Shot: 0%", "Hand-Crafted: 0%"], "range": ["M-1,-0.23H3V0.23H-1Z M0.353,-0.268L0.732,-0.647L1.268,-0.647L1.647,-0.268L1.647,0.268L1.268,0.647L0.732,0.647L0.353,0.268Z", "M1,-1.1L1.248,-0.341L2.046,-0.34L1.402,0.13L1.646,0.89L1,0.422L0.354,0.89L0.598,0.13L-0.046,-0.34L0.752,-0.341Z", "M-1,-0.18H0.3V0.18H-1Z M0.86,-0.18H2.16V0.18H0.86Z M2.72,-0.18H3V0.18H2.72Z", "M-1,-0.18H-0.65V0.18H-1Z M-0.06,-0.18H0.29V0.18H-0.06Z M0.88,-0.18H1.23V0.18H0.88Z M1.82,-0.18H2.17V0.18H1.82Z M2.76,-0.18H3V0.18H2.76Z"]}, "legend": {"title": null}}}}
        ]},
        {"title": "ObsMaze-2Dlh", "width": 272, "height": 178, "layer": [
          {"data": {"name": "stats"}, "transform": [{"filter": "datum.env === 'ObsMaze-2Dlh'"}], "mark": {"type": "area", "color": "#9c27b0", "opacity": 0.15}, "encoding": {"x": {"field": "iter", "type": "quantitative", "scale": {"domain": [-0.15, 3.15], "nice": false, "zero": false}, "axis": {"values": [0, 1, 2, 3], "labelExpr": "datum.value === 3 ? 'Final' : 'Iter ' + datum.value", "title": "Refinement Iteration", "labelFlush": false}}, "y": {"field": "lo", "type": "quantitative", "scale": {"domain": [-0.05, 1.1], "nice": false, "zero": false}, "axis": {"values": [0, 0.2, 0.4, 0.6, 0.8, 1], "format": ".1f", "title": "Success Rate", "labelOverlap": false, "labelBound": false, "labelSeparation": 0}}, "y2": {"field": "hi"}}},
          {"data": {"name": "refs"}, "transform": [{"filter": "datum.env === 'ObsMaze-2Dlh'"}], "mark": {"type": "rule", "color": "#64b5f6", "strokeWidth": 1.5, "strokeDash": [5.5, 2.4]}, "encoding": {"y": {"field": "oneshot", "type": "quantitative"}}},
          {"data": {"name": "refs"}, "transform": [{"filter": "datum.env === 'ObsMaze-2Dlh'"}], "mark": {"type": "rule", "color": "#81c784", "strokeWidth": 1.5, "strokeDash": [1.5, 2.5]}, "encoding": {"y": {"field": "hand", "type": "quantitative"}}},
          {"data": {"name": "runs"}, "transform": [{"filter": "datum.env === 'ObsMaze-2Dlh'"}], "mark": {"type": "line", "color": "#9c27b0", "strokeWidth": 1, "opacity": 0.3, "point": {"filled": true, "size": 12, "color": "#9c27b0", "opacity": 0.3}}, "encoding": {"x": {"field": "iter", "type": "quantitative"}, "y": {"field": "sr", "type": "quantitative"}, "detail": {"field": "run", "type": "nominal"}}},
          {"data": {"name": "stats"}, "transform": [{"filter": "datum.env === 'ObsMaze-2Dlh'"}], "mark": {"type": "line", "color": "#9c27b0", "strokeWidth": 2, "point": {"filled": true, "size": 36, "color": "#9c27b0", "opacity": 1}}, "encoding": {"x": {"field": "iter", "type": "quantitative"}, "y": {"field": "mean", "type": "quantitative"}}},
          {"data": {"name": "refs"}, "transform": [{"filter": "datum.env === 'ObsMaze-2Dlh'"}], "mark": {"type": "point", "shape": "M0,-1L0.225,-0.309L0.951,-0.309L0.363,0.118L0.588,0.809L0,0.382L-0.588,0.809L-0.363,0.118L-0.951,-0.309L-0.225,-0.309Z", "filled": true, "size": 115, "color": "#9c27b0", "opacity": 1}, "encoding": {"x": {"field": "iter", "type": "quantitative"}, "y": {"field": "final", "type": "quantitative"}}},
          {"data": {"name": "refs"}, "transform": [{"filter": "false"}], "mark": {"type": "point", "filled": true, "opacity": 1}, "encoding": {
            "color": {"datum": "Probe SR (mean)", "scale": {"domain": ["Probe SR (mean)", "Final (3000 eps): 7%", "One-Shot: 7%", "Hand-Crafted: 6%"], "range": ["#9c27b0", "#9c27b0", "#64b5f6", "#81c784"]}, "legend": {"title": null}},
            "shape": {"datum": "Probe SR (mean)", "scale": {"domain": ["Probe SR (mean)", "Final (3000 eps): 7%", "One-Shot: 7%", "Hand-Crafted: 6%"], "range": ["M-1,-0.23H3V0.23H-1Z M0.353,-0.268L0.732,-0.647L1.268,-0.647L1.647,-0.268L1.647,0.268L1.268,0.647L0.732,0.647L0.353,0.268Z", "M1,-1.1L1.248,-0.341L2.046,-0.34L1.402,0.13L1.646,0.89L1,0.422L0.354,0.89L0.598,0.13L-0.046,-0.34L0.752,-0.341Z", "M-1,-0.18H0.3V0.18H-1Z M0.86,-0.18H2.16V0.18H0.86Z M2.72,-0.18H3V0.18H2.72Z", "M-1,-0.18H-0.65V0.18H-1Z M-0.06,-0.18H0.29V0.18H-0.06Z M0.88,-0.18H1.23V0.18H0.88Z M1.82,-0.18H2.17V0.18H1.82Z M2.76,-0.18H3V0.18H2.76Z"]}, "legend": {"title": null}}}}
        ]},
        {"title": "UnlockPickup", "width": 272, "height": 178, "layer": [
          {"data": {"name": "stats"}, "transform": [{"filter": "datum.env === 'UnlockPickup'"}], "mark": {"type": "area", "color": "#9c27b0", "opacity": 0.15}, "encoding": {"x": {"field": "iter", "type": "quantitative", "scale": {"domain": [-0.15, 3.15], "nice": false, "zero": false}, "axis": {"values": [0, 1, 2, 3], "labelExpr": "datum.value === 3 ? 'Final' : 'Iter ' + datum.value", "title": "Refinement Iteration", "labelFlush": false}}, "y": {"field": "lo", "type": "quantitative", "scale": {"domain": [-0.05, 1.1], "nice": false, "zero": false}, "axis": {"values": [0, 0.2, 0.4, 0.6, 0.8, 1], "format": ".1f", "title": "Success Rate", "labelOverlap": false, "labelBound": false, "labelSeparation": 0}}, "y2": {"field": "hi"}}},
          {"data": {"name": "refs"}, "transform": [{"filter": "datum.env === 'UnlockPickup'"}], "mark": {"type": "rule", "color": "#64b5f6", "strokeWidth": 1.5, "strokeDash": [5.5, 2.4]}, "encoding": {"y": {"field": "oneshot", "type": "quantitative"}}},
          {"data": {"name": "refs"}, "transform": [{"filter": "datum.env === 'UnlockPickup'"}], "mark": {"type": "rule", "color": "#81c784", "strokeWidth": 1.5, "strokeDash": [1.5, 2.5]}, "encoding": {"y": {"field": "hand", "type": "quantitative"}}},
          {"data": {"name": "runs"}, "transform": [{"filter": "datum.env === 'UnlockPickup'"}], "mark": {"type": "line", "color": "#9c27b0", "strokeWidth": 1, "opacity": 0.3, "point": {"filled": true, "size": 12, "color": "#9c27b0", "opacity": 0.3}}, "encoding": {"x": {"field": "iter", "type": "quantitative"}, "y": {"field": "sr", "type": "quantitative"}, "detail": {"field": "run", "type": "nominal"}}},
          {"data": {"name": "stats"}, "transform": [{"filter": "datum.env === 'UnlockPickup'"}], "mark": {"type": "line", "color": "#9c27b0", "strokeWidth": 2, "point": {"filled": true, "size": 36, "color": "#9c27b0", "opacity": 1}}, "encoding": {"x": {"field": "iter", "type": "quantitative"}, "y": {"field": "mean", "type": "quantitative"}}},
          {"data": {"name": "refs"}, "transform": [{"filter": "datum.env === 'UnlockPickup'"}], "mark": {"type": "point", "shape": "M0,-1L0.225,-0.309L0.951,-0.309L0.363,0.118L0.588,0.809L0,0.382L-0.588,0.809L-0.363,0.118L-0.951,-0.309L-0.225,-0.309Z", "filled": true, "size": 115, "color": "#9c27b0", "opacity": 1}, "encoding": {"x": {"field": "iter", "type": "quantitative"}, "y": {"field": "final", "type": "quantitative"}}},
          {"data": {"name": "refs"}, "transform": [{"filter": "false"}], "mark": {"type": "point", "filled": true, "opacity": 1}, "encoding": {
            "color": {"datum": "Probe SR (mean)", "scale": {"domain": ["Probe SR (mean)", "Final (3000 eps): 24%", "One-Shot: 16%", "Hand-Crafted: 19%"], "range": ["#9c27b0", "#9c27b0", "#64b5f6", "#81c784"]}, "legend": {"title": null}},
            "shape": {"datum": "Probe SR (mean)", "scale": {"domain": ["Probe SR (mean)", "Final (3000 eps): 24%", "One-Shot: 16%", "Hand-Crafted: 19%"], "range": ["M-1,-0.23H3V0.23H-1Z M0.353,-0.268L0.732,-0.647L1.268,-0.647L1.647,-0.268L1.647,0.268L1.268,0.647L0.732,0.647L0.353,0.268Z", "M1,-1.1L1.248,-0.341L2.046,-0.34L1.402,0.13L1.646,0.89L1,0.422L0.354,0.89L0.598,0.13L-0.046,-0.34L0.752,-0.341Z", "M-1,-0.18H0.3V0.18H-1Z M0.86,-0.18H2.16V0.18H0.86Z M2.72,-0.18H3V0.18H2.72Z", "M-1,-0.18H-0.65V0.18H-1Z M-0.06,-0.18H0.29V0.18H-0.06Z M0.88,-0.18H1.23V0.18H0.88Z M1.82,-0.18H2.17V0.18H1.82Z M2.76,-0.18H3V0.18H2.76Z"]}, "legend": {"title": null}}}}
        ]}
      ]
    }
  ],
  "config": {
    "font": "DejaVu Sans",
    "view": {"stroke": "#222222", "strokeWidth": 1},
    "axis": {"grid": true, "gridColor": "#b0b0b0", "gridOpacity": 0.3, "gridWidth": 0.8, "domain": false, "tickColor": "#222222", "tickSize": 3.5, "tickWidth": 0.8, "labelColor": "#222222", "labelFontSize": 8, "labelPadding": 2, "labelOverlap": false, "titleFontSize": 9, "titleFontWeight": "normal", "titleColor": "#222222", "titlePadding": 3},
    "title": {"fontSize": 9.5, "fontWeight": "bold", "color": "#000000", "offset": 4},
    "legend": {"orient": "top-left", "offset": 4, "padding": 2, "rowPadding": 1.2, "labelFontSize": 6, "labelColor": "#222222", "strokeColor": "#cccccc", "fillColor": "rgba(255,255,255,0.8)", "cornerRadius": 2, "symbolSize": 72, "labelOffset": 11.5}
  }
}
